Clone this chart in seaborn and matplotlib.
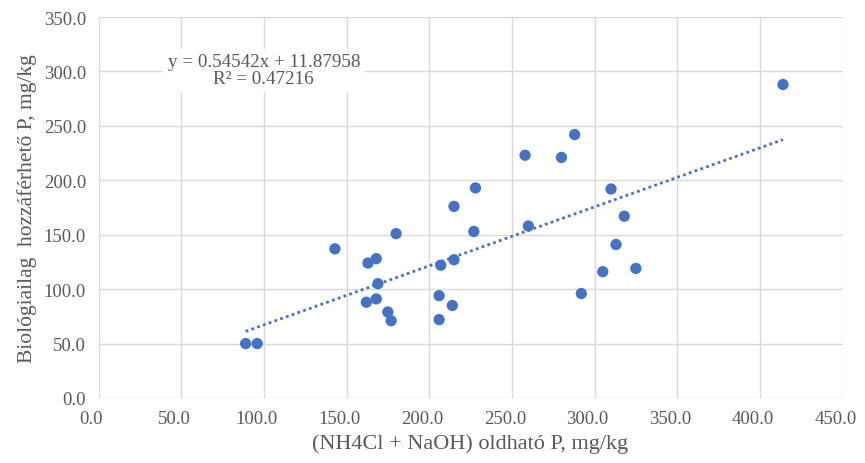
import pandas as pd
import matplotlib
matplotlib.use("Agg")
import matplotlib.pyplot as plt
import matplotlib.transforms as mtransforms
import seaborn as sns

# values
oldhato_p = [89, 96, 143, 163, 168, 169, 162, 168, 175, 177, 180, 207, 215, 206,
             206, 214, 215, 228, 227, 258, 260, 280, 288, 292, 310, 305, 313, 318,
             325, 414]
biol_p = [50, 50, 137, 124, 128, 105, 88, 91, 79, 71, 151, 122, 127, 94,
          72, 85, 176, 193, 153, 223, 158, 221, 242, 96, 192, 116, 141, 167,
          119, 288]
x_ticks = [0, 50, 100, 150, 200, 250, 300, 350, 400, 450]
y_ticks = [0, 50, 100, 150, 200, 250, 300, 350]
trend_text = "y = 0.54542x + 11.87958\nR² = 0.47216"

df = pd.DataFrame({"x": oldhato_p, "y": biol_p})

sns.set_style("white")
plt.rcParams['font.family'] = ['Liberation Serif', 'DejaVu Serif']

blue = "#4472C4"
grid_c = "#D9D9D9"
text_c = "#595959"

fig = plt.figure(figsize=(8.65, 4.64), dpi=100)
ax = fig.add_axes([98.5 / 865, 1 - 399 / 464, (842.5 - 98.5) / 865, (399 - 18) / 464])

sns.regplot(data=df, x="x", y="y", ax=ax, ci=None,
            scatter_kws={"s": 66, "color": blue, "edgecolor": "none", "alpha": 1, "zorder": 3},
            line_kws={"color": blue, "linestyle": (0, (1, 1.2)), "linewidth": 2, "zorder": 2})

ax.set_xlim(0, 450)
ax.set_ylim(0, 350)
ax.set_xticks(x_ticks)
ax.set_yticks(y_ticks)
ax.set_xticklabels([f"{v:.1f}" for v in x_ticks])
ax.set_yticklabels([f"{v:.1f}" for v in y_ticks])
ax.grid(True, color=grid_c, linewidth=1)
ax.set_axisbelow(True)
for s in ax.spines.values():
    s.set_visible(False)
ax.tick_params(axis="both", length=0, labelsize=13.5, colors=text_c, pad=9)

# x tick labels sit a little left of their gridlines in the reference
shift = mtransforms.ScaledTranslation(-7 / 100, 0, fig.dpi_scale_trans)
for lab in ax.get_xticklabels():
    lab.set_transform(lab.get_transform() + shift)

ax.set_xlabel("(NH4Cl + NaOH) oldható P, mg/kg", fontsize=16, color=text_c, labelpad=4)
ax.set_ylabel("Biológiailag  hozzáférhető P, mg/kg", fontsize=15.5, color=text_c, labelpad=5)

ax.text(100, 301, trend_text, ha="center", va="center", fontsize=13.8,
        color=text_c, linespacing=1.0,
        bbox=dict(facecolor="white", edgecolor="none", pad=3))

fig.savefig("out.png", dpi=100)
